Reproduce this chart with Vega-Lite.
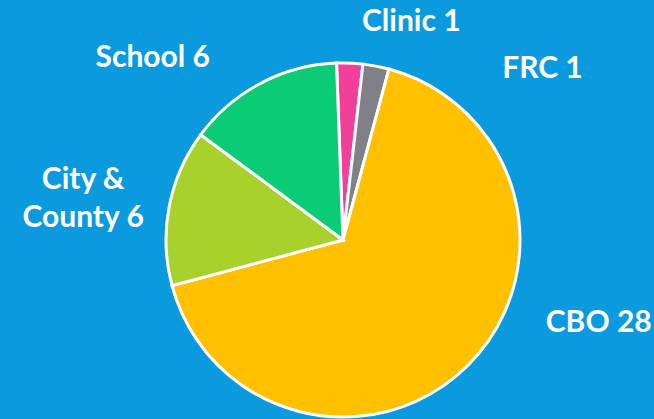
{
  "$schema": "https://vega.github.io/schema/vega-lite/v6.json",
  "autosize": {"type": "none"},
  "width": 622,
  "height": 358,
  "padding": {"left": 32, "top": 61, "right": 0, "bottom": 0},
  "background": "#0A9ADD",
  "config": {"view": {"stroke": null}},
  "data": {
    "values": [
      {"category": "Clinic", "count": 1, "order": 1, "label": "Clinic 1"},
      {"category": "FRC", "count": 1, "order": 2, "label": "FRC 1"},
      {"category": "CBO", "count": 28, "order": 3, "label": "CBO 28"},
      {"category": "City & County", "count": 6, "order": 4, "label": "City &\nCounty 6"},
      {"category": "School", "count": 6, "order": 5, "label": "School 6"}
    ]
  },
  "encoding": {
    "theta": {"field": "count", "type": "quantitative", "stack": true, "scale": {"range": [-0.0367, 6.2465]}},
    "order": {"field": "order", "type": "quantitative"}
  },
  "layer": [
    {
      "mark": {"type": "arc", "outerRadius": 177, "stroke": "white", "strokeWidth": 3},
      "encoding": {
        "color": {
          "field": "category",
          "type": "nominal",
          "legend": null,
          "scale": {
            "domain": ["Clinic", "FRC", "CBO", "City & County", "School"],
            "range": ["#F2409A", "#808087", "#FFC000", "#A8D12B", "#0BCB77"]
          }
        }
      }
    },
    {
      "mark": {"type": "text", "radius": 209, "dx": 11, "dy": 0, "align": "left", "baseline": "alphabetic", "font": "Lato", "fontWeight": "bold", "fontSize": 30, "color": "white"},
      "encoding": {"text": {"condition": {"test": "datum.category === 'Clinic'", "field": "label"}, "value": ""}}
    },
    {
      "mark": {"type": "text", "radius": 178, "dx": 126, "dy": 13, "align": "left", "baseline": "alphabetic", "font": "Lato", "fontWeight": "bold", "fontSize": 30, "color": "white"},
      "encoding": {"text": {"condition": {"test": "datum.category === 'FRC'", "field": "label"}, "value": ""}}
    },
    {
      "mark": {"type": "text", "radius": 178, "dx": 77, "dy": -34, "align": "left", "baseline": "alphabetic", "font": "Lato", "fontWeight": "bold", "fontSize": 30, "color": "white"},
      "encoding": {"text": {"condition": {"test": "datum.category === 'CBO'", "field": "label"}, "value": ""}}
    },
    {
      "mark": {"type": "text", "radius": 178, "dx": -50, "dy": -16, "align": "right", "baseline": "alphabetic", "font": "Lato", "fontWeight": "bold", "fontSize": 30, "color": "white"},
      "encoding": {"text": {"condition": {"test": "datum.category === 'School'", "field": "label"}, "value": ""}}
    },
    {
      "mark": {"type": "text", "radius": 178, "dx": -85, "dy": -18, "align": "center", "baseline": "alphabetic", "lineBreak": "\n", "lineHeight": 38, "font": "Lato", "fontWeight": "bold", "fontSize": 30, "color": "white"},
      "encoding": {"text": {"condition": {"test": "datum.category === 'City & County'", "field": "label"}, "value": ""}}
    }
  ]
}
